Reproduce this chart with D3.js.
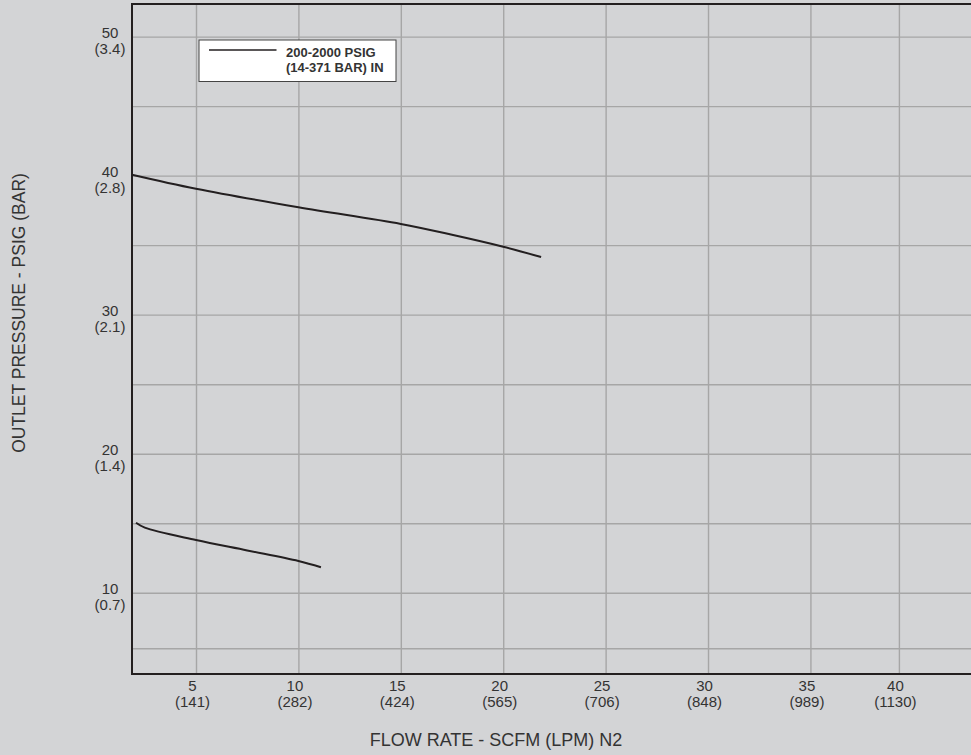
<!DOCTYPE html>
<html>
  <head>
    <script src="https://cdnjs.cloudflare.com/ajax/libs/d3/7.8.5/d3.min.js"></script>
    <style type="text/css">
      body {
        margin: 0;
        padding: 0;
        background: #d3d4d6;
      }
      svg {
        display: block;
        font-family: "Liberation Sans", Arial, sans-serif;
      }
      .tick-label {
        fill: #333;
        font-size: 15px;
      }
    </style>
  </head>
  <body>
    <div id="chart"></div>
    <script type="text/javascript">
    // x axis: flow rate, scfm with lpm in brackets
    const flowScfm = [5, 10, 15, 20, 25, 30, 35, 40];
    const flowLpm = [141, 282, 424, 565, 706, 848, 989, 1130];
    // where each flow tick sits on the scale (the 40 line is drawn short on the original)
    const flowTickAt = [5, 10, 15, 20, 25, 30, 35, 39.32];

    // y axis: outlet pressure, psig with bar in brackets
    const pressPsig = [10, 20, 30, 40, 50];
    const pressBar = [0.7, 1.4, 2.1, 2.8, 3.4];
    const pressGrid = [6, 10, 15, 20, 25, 30, 35, 40, 45, 50];

    // curves
    const upperFlow = [1.875, 5, 10, 15, 17.5, 20, 21.85];
    const upperPress = [40.07, 39.06, 37.73, 36.53, 35.75, 34.89, 34.15];
    const lowerFlow = [2.07, 2.5, 5, 7.5, 10, 11.1];
    const lowerPress = [15.03, 14.68, 13.79, 13.04, 12.28, 11.83];

    const legendLines = ['200-2000 PSIG', '(14-371 BAR) IN'];

    const W = 971, H = 755;
    const margin = {top: 4, right: 0, bottom: 81, left: 132};
    const plotW = W - margin.left - margin.right;
    const plotH = H - margin.top - margin.bottom;

    const svg = d3.select('#chart')
      .append('svg')
      .attr('width', W)
      .attr('height', H);

    svg.append('rect')
      .attr('width', W)
      .attr('height', H)
      .attr('fill', '#d3d4d6');

    const x = d3.scaleLinear().domain([1.875, 42.84]).range([margin.left, margin.left + plotW]);
    const y = d3.scaleLinear().domain([4.15, 52.35]).range([margin.top + plotH, margin.top]);

    // grid
    const gx = svg.append('g')
      .attr('transform', `translate(0,${margin.top})`)
      .call(d3.axisBottom(x).tickValues(flowTickAt).tickSize(plotH).tickFormat(''));
    const gy = svg.append('g')
      .attr('transform', `translate(${margin.left},0)`)
      .call(d3.axisRight(y).tickValues(pressGrid).tickSize(plotW).tickFormat(''));
    [gx, gy].forEach(g => {
      g.select('.domain').remove();
      g.selectAll('.tick line').attr('stroke', '#a6a6a6').attr('stroke-width', 1.4);
    });

    // frame: top, left, bottom
    svg.append('path')
      .attr('d', `M${W},${margin.top}H${margin.left}V${margin.top + plotH}H${W}`)
      .attr('fill', 'none')
      .attr('stroke', '#231f20')
      .attr('stroke-width', 2);

    // x tick labels, two lines each
    const xLab = svg.append('g')
      .attr('transform', `translate(0,${margin.top + plotH})`)
      .call(d3.axisBottom(x).tickValues(flowTickAt).tickSize(0).tickFormat(''));
    xLab.select('.domain').remove();
    xLab.selectAll('.tick text').remove();
    xLab.selectAll('.tick').each(function(d, i) {
      const t = d3.select(this).append('text')
        .attr('class', 'tick-label')
        .attr('text-anchor', 'middle');
      t.append('tspan').attr('x', -4).attr('y', 17).text(flowScfm[i]);
      t.append('tspan').attr('x', -4).attr('y', 32.5).text(`(${flowLpm[i]})`);
    });

    // y tick labels, two lines each
    const yLab = svg.append('g')
      .attr('transform', `translate(${margin.left},0)`)
      .call(d3.axisLeft(y).tickValues(pressPsig).tickSize(0).tickFormat(''));
    yLab.select('.domain').remove();
    yLab.selectAll('.tick text').remove();
    yLab.selectAll('.tick').each(function(d, i) {
      const t = d3.select(this).append('text')
        .attr('class', 'tick-label')
        .attr('text-anchor', 'middle');
      t.append('tspan').attr('x', -22).attr('y', 1).text(pressPsig[i]);
      t.append('tspan').attr('x', -22).attr('y', 17).text(`(${pressBar[i].toFixed(1)})`);
    });

    // curves
    const line = d3.line()
      .x(d => x(d[0]))
      .y(d => y(d[1]))
      .curve(d3.curveCatmullRom.alpha(0.5));
    [[upperFlow, upperPress], [lowerFlow, lowerPress]].forEach(([fx, py]) => {
      svg.append('path')
        .datum(fx.map((v, i) => [v, py[i]]))
        .attr('d', line)
        .attr('fill', 'none')
        .attr('stroke', '#231f20')
        .attr('stroke-width', 2);
    });

    // legend
    const lg = svg.append('g').attr('transform', 'translate(199,40)');
    lg.append('rect')
      .attr('width', 197)
      .attr('height', 41.5)
      .attr('fill', '#fff')
      .attr('stroke', '#444')
      .attr('stroke-width', 1);
    lg.append('line')
      .attr('x1', 10).attr('x2', 77.5)
      .attr('y1', 10).attr('y2', 10)
      .attr('stroke', '#231f20')
      .attr('stroke-width', 1.5);
    lg.append('text')
      .attr('font-size', 13)
      .attr('font-weight', 'bold')
      .attr('fill', '#333')
      .selectAll('tspan')
      .data(legendLines)
      .enter()
      .append('tspan')
      .attr('x', 87)
      .attr('y', (d, i) => 17.3 + i * 15)
      .text(d => d);

    // axis titles
    svg.append('text')
      .attr('x', 496)
      .attr('y', 746)
      .attr('text-anchor', 'middle')
      .attr('font-size', 18)
      .attr('fill', '#333')
      .text('FLOW RATE - SCFM (LPM) N2');

    svg.append('text')
      .attr('transform', 'translate(25,313) rotate(-90)')
      .attr('text-anchor', 'middle')
      .attr('font-size', 17.5)
      .attr('fill', '#333')
      .text('OUTLET PRESSURE - PSIG (BAR)');
    </script>
  </body>
</html>
